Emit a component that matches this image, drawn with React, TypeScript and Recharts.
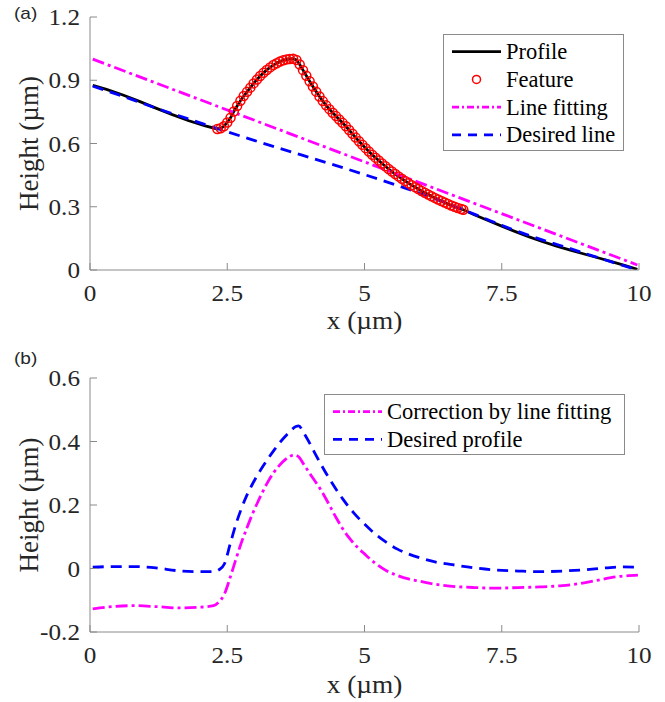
import React from 'react';
import { ComposedChart, Line, Scatter, XAxis, YAxis, Legend, Label } from 'recharts';

/* ─── Data ───────────────────────────────────────────────────────────── */

const X_TICKS = [0, 2.5, 5, 7.5, 10];
const Y_TICKS_A = [0, 0.3, 0.6, 0.9, 1.2];
const Y_TICKS_B = [-0.2, 0, 0.2, 0.4, 0.6];

// measured profile [x µm, height µm]
const PROFILE: [number, number][] = [
  [0.05, 0.876], [0.3, 0.857], [0.6, 0.83], [0.9, 0.8], [1.2, 0.768],
  [1.5, 0.737], [1.8, 0.708], [2.1, 0.684],
  [2.32, 0.669], [2.38, 0.672], [2.44, 0.682], [2.5, 0.7], [2.56, 0.722],
  [2.62, 0.752], [2.68, 0.778], [2.74, 0.803], [2.8, 0.825], [2.86, 0.845],
  [2.92, 0.865], [2.98, 0.885], [3.04, 0.903], [3.1, 0.92], [3.16, 0.935],
  [3.22, 0.949], [3.28, 0.961], [3.34, 0.972], [3.4, 0.981], [3.46, 0.989],
  [3.52, 0.995], [3.58, 0.999], [3.64, 1.001], [3.7, 1.002], [3.76, 0.996],
  [3.82, 0.975], [3.88, 0.948], [3.94, 0.921], [4.0, 0.895], [4.06, 0.87],
  [4.12, 0.846], [4.18, 0.823], [4.24, 0.801], [4.3, 0.781], [4.36, 0.763],
  [4.42, 0.746], [4.48, 0.73], [4.54, 0.714], [4.6, 0.698], [4.66, 0.682],
  [4.72, 0.664], [4.78, 0.646], [4.84, 0.628], [4.9, 0.611], [4.96, 0.594],
  [5.02, 0.578], [5.08, 0.562], [5.14, 0.547], [5.2, 0.533], [5.26, 0.519],
  [5.32, 0.505], [5.38, 0.492], [5.44, 0.479], [5.5, 0.467], [5.56, 0.455],
  [5.62, 0.444], [5.68, 0.433], [5.74, 0.422], [5.8, 0.412], [5.86, 0.402],
  [5.92, 0.393], [5.98, 0.384], [6.04, 0.375], [6.1, 0.366], [6.16, 0.358],
  [6.22, 0.35], [6.28, 0.342], [6.34, 0.334], [6.4, 0.327], [6.46, 0.32],
  [6.52, 0.313], [6.58, 0.306], [6.64, 0.3], [6.7, 0.294], [6.76, 0.289],
  [6.8, 0.286],
  [7.0, 0.262], [7.25, 0.235], [7.5, 0.208], [7.75, 0.182], [8.0, 0.157],
  [8.25, 0.134], [8.5, 0.113], [8.75, 0.094], [9.0, 0.076], [9.25, 0.058],
  [9.5, 0.04], [9.75, 0.021], [9.97, 0.003],
];

const FEATURE_RANGE: [number, number] = [2.32, 6.8];

const LINE_FIT: [number, number][] = [[0.05, 1.0], [9.97, 0.024]];

const DESIRED_LINE: [number, number][] = [
  [0.05, 0.872], [0.6, 0.824], [1.2, 0.768], [1.8, 0.716], [2.32, 0.671],
  [6.8, 0.286], [7.25, 0.238], [7.75, 0.187], [8.25, 0.142], [8.75, 0.101],
  [9.25, 0.059], [9.75, 0.018], [9.97, 0.0],
];

const CORRECTION_FIT: [number, number][] = [
  [0.05, -0.127], [0.4, -0.12], [0.8, -0.117], [1.2, -0.12], [1.6, -0.124],
  [2.0, -0.122], [2.25, -0.117], [2.35, -0.105], [2.45, -0.08], [2.55, -0.03],
  [2.65, 0.025], [2.75, 0.078], [2.85, 0.124], [2.95, 0.168], [3.05, 0.207],
  [3.15, 0.243], [3.25, 0.276], [3.35, 0.303], [3.45, 0.325], [3.55, 0.342],
  [3.65, 0.354], [3.72, 0.358], [3.8, 0.352], [3.9, 0.326], [4.0, 0.3],
  [4.1, 0.275], [4.2, 0.249], [4.3, 0.219], [4.4, 0.187], [4.5, 0.155],
  [4.6, 0.126], [4.7, 0.101], [4.8, 0.08], [4.9, 0.062], [5.0, 0.046],
  [5.2, 0.016], [5.4, -0.007], [5.6, -0.022], [5.8, -0.033], [6.0, -0.04],
  [6.3, -0.05], [6.6, -0.056], [7.0, -0.06], [7.4, -0.062], [7.8, -0.06],
  [8.2, -0.058], [8.6, -0.054], [9.0, -0.045], [9.3, -0.035], [9.6, -0.026],
  [9.98, -0.021],
];

const DESIRED_PROFILE: [number, number][] = [
  [0.05, 0.004], [0.4, 0.006], [0.8, 0.006], [1.2, 0.002], [1.6, -0.007],
  [2.0, -0.01], [2.25, -0.01], [2.35, -0.004], [2.45, 0.015], [2.55, 0.075],
  [2.65, 0.135], [2.75, 0.185], [2.85, 0.228], [2.95, 0.263], [3.05, 0.294],
  [3.15, 0.322], [3.25, 0.348], [3.35, 0.372], [3.45, 0.395], [3.55, 0.415],
  [3.65, 0.433], [3.75, 0.447], [3.8, 0.449], [3.9, 0.425], [4.0, 0.395],
  [4.1, 0.362], [4.2, 0.33], [4.3, 0.3], [4.4, 0.272], [4.5, 0.245],
  [4.6, 0.22], [4.7, 0.197], [4.8, 0.176], [4.9, 0.157], [5.0, 0.14],
  [5.2, 0.108], [5.4, 0.082], [5.6, 0.061], [5.8, 0.046], [6.0, 0.034],
  [6.3, 0.02], [6.6, 0.012], [7.0, 0.002], [7.4, -0.005], [7.8, -0.008],
  [8.2, -0.01], [8.6, -0.008], [9.0, -0.004], [9.4, 0.002], [9.7, 0.005],
  [9.98, 0.004],
];

const LEGEND_A = ['Profile', 'Feature', 'Line fitting', 'Desired line'];
const LEGEND_B = ['Correction by line fitting', 'Desired profile'];

/* ─── Styles ─────────────────────────────────────────────────────────── */

const SERIF = '"Liberation Serif", "Times New Roman", serif';
const SANS = '"Liberation Sans", Arial, sans-serif';
const TEXT = '#262626';
const AXIS = '#8a8a8a';
const BLACK = '#000000';
const RED = '#ff0000';
const MAGENTA = '#ff00ff';
const BLUE = '#0000ff';
const LW = 2.8;
const DASH_DOT = '12 4 3 4';
const DASH = '11 7';
const SX = 1.05; // source figure is a touch wider than plain Times

const toPts = (arr: [number, number][]) => arr.map(([x, y]) => ({ x, y }));

/* ─── Axis pieces ────────────────────────────────────────────────────── */

function BottomTick({ x, y, payload }: any) {
  return (
    <text
      transform={`translate(${x},${y + 31}) scale(${SX},1)`}
      textAnchor="middle"
      fontSize={24}
      fontFamily={SERIF}
      fill={TEXT}
    >
      {String(payload.value)}
    </text>
  );
}

function LeftTick({ x, y, payload }: any) {
  return (
    <text
      transform={`translate(${x},${y + 8}) scale(${SX},1)`}
      textAnchor="end"
      fontSize={24}
      fontFamily={SERIF}
      fill={TEXT}
    >
      {String(payload.value)}
    </text>
  );
}

const xLabel = (dy: number) => (props: any) => {
  const vb = props.viewBox;
  return (
    <text
      transform={`translate(${vb.x + vb.width / 2},${vb.y + dy}) scale(${SX},1)`}
      textAnchor="middle"
      fontSize={26}
      fontFamily={SERIF}
      fill={TEXT}
    >
      x (µm)
    </text>
  );
};

const yLabel = (props: any) => {
  const vb = props.viewBox;
  return (
    <text
      transform={`translate(38,${vb.y + vb.height / 2}) rotate(-90)`}
      textAnchor="middle"
      fontSize={27}
      fontFamily={SERIF}
      fill={TEXT}
    >
      Height (µm)
    </text>
  );
};

/* ─── Legends ────────────────────────────────────────────────────────── */

function LegendSample({ kind, y }: { kind: string; y: number }) {
  const x1 = 9;
  const x2 = 58;
  if (kind === 'circle')
    return <circle cx={(x1 + x2) / 2} cy={y} r={4} fill="none" stroke={RED} strokeWidth={1.5} />;
  const stroke = kind === 'solid' ? BLACK : kind === 'dashdot' ? MAGENTA : BLUE;
  const dash = kind === 'solid' ? undefined : kind === 'dashdot' ? '7 3 2 3' : '9 7';
  return <line x1={x1} x2={x2} y1={y} y2={y} stroke={stroke} strokeWidth={LW} strokeDasharray={dash} />;
}

function BoxLegend({ names, kinds, width, height }: { names: string[]; kinds: string[]; width: number; height: number }) {
  return (
    <svg width={width} height={height} style={{ display: 'block' }}>
      <rect x={0.5} y={0.5} width={width - 1} height={height - 1} fill="#fff" stroke={AXIS} />
      {names.map((n, i) => {
        const cy = 17.7 + i * 27.7;
        return (
          <g key={n}>
            <LegendSample kind={kinds[i]} y={cy} />
            <text x={63} y={cy + 7.5} fontSize={22.5} fontFamily={SERIF} fill={BLACK}>
              {n}
            </text>
          </g>
        );
      })}
    </svg>
  );
}

/* ─── Frame axes shared by both panels ───────────────────────────────── */

function frameAxes(yTicks: number[], yDomain: [number, number], xLabelDy: number) {
  return [
    <XAxis
      key="xb"
      type="number"
      dataKey="x"
      domain={[0, 10]}
      ticks={X_TICKS}
      allowDataOverflow
      height={70}
      stroke={AXIS}
      tickSize={-7}
      tickMargin={7}
      tick={<BottomTick />}
    >
      <Label content={xLabel(xLabelDy)} />
    </XAxis>,
    <XAxis
      key="xt"
      xAxisId="top"
      orientation="top"
      type="number"
      domain={[0, 10]}
      ticks={X_TICKS}
      allowDataOverflow
      height={0}
      stroke={AXIS}
      tickSize={-7}
      tick={false}
    />,
    <YAxis
      key="yl"
      type="number"
      dataKey="y"
      domain={yDomain}
      ticks={yTicks}
      allowDataOverflow
      width={90}
      stroke={AXIS}
      tickSize={-7}
      tickMargin={17}
      tick={<LeftTick />}
    >
      <Label content={yLabel} />
    </YAxis>,
    <YAxis
      key="yr"
      yAxisId="right"
      orientation="right"
      type="number"
      domain={yDomain}
      ticks={yTicks}
      allowDataOverflow
      width={0}
      stroke={AXIS}
      tickSize={-7}
      tick={false}
    />,
  ];
}

/* ─── Main ───────────────────────────────────────────────────────────── */

export default function App() {
  const profile = toPts(PROFILE);
  const feature = profile.filter((p) => p.x >= FEATURE_RANGE[0] && p.x <= FEATURE_RANGE[1]);

  return (
    <div style={{ position: 'absolute', left: 0, top: 0, width: 665, height: 702, background: '#fff' }}>
      <div style={{ position: 'absolute', left: 14, top: 4, fontFamily: SANS, fontSize: 17, color: TEXT, transform: 'scale(1.12,1)', transformOrigin: 'left top' }}>
        (a)
      </div>
      <div style={{ position: 'absolute', left: 14, top: 349, fontFamily: SANS, fontSize: 17, color: TEXT, transform: 'scale(1.12,1)', transformOrigin: 'left top' }}>
        (b)
      </div>

      <div style={{ position: 'absolute', left: 0, top: 0 }}>
        <ComposedChart width={665} height={340} margin={{ top: 17, right: 26, bottom: 0, left: 0 }}>
          {frameAxes(Y_TICKS_A, [0, 1.2], 59)}
          <Line data={profile} dataKey="y" type="linear" stroke={BLACK} strokeWidth={LW} dot={false} activeDot={false} isAnimationActive={false} />
          <Scatter
            data={feature}
            dataKey="y"
            isAnimationActive={false}
            shape={(p: any) => <circle cx={p.cx} cy={p.cy} r={4.5} fill="none" stroke={RED} strokeWidth={1.5} />}
          />
          <Line data={toPts(LINE_FIT)} dataKey="y" type="linear" stroke={MAGENTA} strokeWidth={LW} strokeDasharray={DASH_DOT} dot={false} activeDot={false} isAnimationActive={false} />
          <Line data={toPts(DESIRED_LINE)} dataKey="y" type="monotone" stroke={BLUE} strokeWidth={LW} strokeDasharray={DASH} dot={false} activeDot={false} isAnimationActive={false} />
          <Legend
            layout="vertical"
            align="center"
            verticalAlign="middle"
            wrapperStyle={{ left: 443, top: 34, width: 181, height: 117 }}
            content={() => <BoxLegend names={LEGEND_A} kinds={['solid', 'circle', 'dashdot', 'dash']} width={181} height={117} />}
          />
        </ComposedChart>
      </div>

      <div style={{ position: 'absolute', left: 0, top: 340 }}>
        <ComposedChart width={665} height={362} margin={{ top: 38, right: 26, bottom: 0, left: 0 }}>
          {frameAxes(Y_TICKS_B, [-0.2, 0.6], 61)}
          <Line data={toPts(CORRECTION_FIT)} dataKey="y" type="monotone" stroke={MAGENTA} strokeWidth={LW} strokeDasharray={DASH_DOT} dot={false} activeDot={false} isAnimationActive={false} />
          <Line data={toPts(DESIRED_PROFILE)} dataKey="y" type="monotone" stroke={BLUE} strokeWidth={LW} strokeDasharray={DASH} dot={false} activeDot={false} isAnimationActive={false} />
          <Legend
            layout="vertical"
            align="center"
            verticalAlign="middle"
            wrapperStyle={{ left: 324, top: 54, width: 301, height: 61 }}
            content={() => <BoxLegend names={LEGEND_B} kinds={['dashdot', 'dash']} width={301} height={61} />}
          />
        </ComposedChart>
      </div>
    </div>
  );
}
